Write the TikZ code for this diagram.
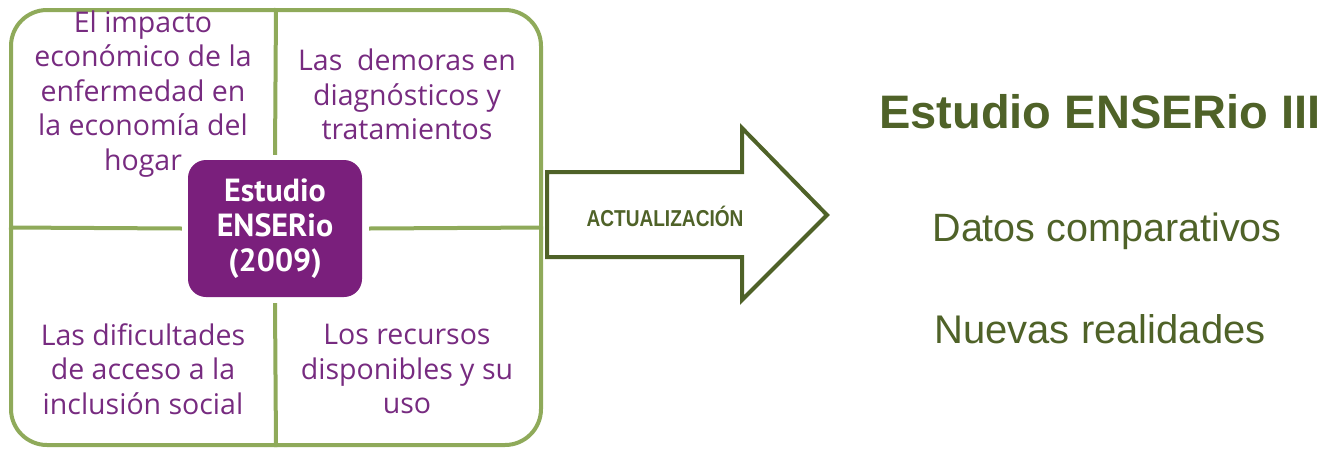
\documentclass[tikz,border=0pt]{standalone}
\usepackage{fontspec}
\setmainfont{Open Sans}
\newfontfamily\arialf{Liberation Sans}
\newfontfamily\boxf{PT Sans}
\usetikzlibrary{positioning}
\definecolor{gridgreen}{HTML}{8FAA5A}
\definecolor{olive}{HTML}{4F6228}
\definecolor{purp}{HTML}{7A1F7C}
\definecolor{purptext}{HTML}{772B80}
\tikzset{
  frame/.style={draw=gridgreen, line width=4pt, rounded corners=36pt, minimum width=530pt, minimum height=435pt, inner sep=0pt},
  divider/.style={draw=gridgreen, line width=4pt},
  centerbox/.style={fill=purp, rounded corners=18pt, minimum width=174pt, minimum height=137pt, text=white, align=center, font=\boxf\bfseries\fontsize{32}{35}\selectfont, inner sep=0pt},
  quad/.style={text=purptext, align=center, font=\fontsize{28.5}{34.5}\selectfont, inner sep=0pt},
  bigarrow/.style={draw=olive, line width=4pt, line join=miter},
  rtext/.style={text=olive, inner sep=0pt, anchor=center},
}
\begin{document}
\begin{tikzpicture}[x=1pt,y=-1pt]
\useasboundingbox (0,0) rectangle (1325,448);
\node[frame] (frame) at (276,227.5) {};
\node[centerbox] (box) at (275,228.5) {Estudio\\ENSERio\\(2009)};
\draw[divider] (frame.north) -- ([yshift=5pt]box.north);
\draw[divider] ([yshift=-6pt]box.south) -- (frame.south);
\draw[divider] (frame.west) -- ([xshift=-6pt]box.west);
\draw[divider] ([xshift=7pt]box.east) -- (frame.east);
\node[quad] (tl) at (143,94) {El impacto\\econ\'omico de la\\enfermedad en\\la econom\'ia del\\hogar};
\node[quad] (tr) at (407,94.5) {Las\ \ demoras en\\diagn\'osticos y\\tratamientos};
\node[quad] (bl) at (143,369) {Las dificultades\\de acceso a la\\inclusi\'on social};
\node[quad] (br) at (407,369) {Los recursos\\disponibles y su\\uso};
\coordinate (a1) at (547,172);
\coordinate (a2) at (742,172);
\coordinate (a3) at (742,128);
\coordinate (a4) at (827,215);
\coordinate (a5) at (742,300);
\coordinate (a6) at (742,257);
\coordinate (a7) at (547,257);
\draw[bigarrow] (a1) -- (a2) -- (a3) -- (a4) -- (a5) -- (a6) -- (a7) -- cycle;
\node[rtext] (act) at (665,216) {\scalebox{0.83}[1]{\arialf\bfseries\fontsize{23}{23}\selectfont ACTUALIZACI\'ON}};
\node[rtext] (t1) at (1100,112) {\arialf\bfseries\fontsize{47}{47}\selectfont Estudio ENSERio III};
\node[rtext] (t2) at (1107,231) {\arialf\fontsize{39.5}{39.5}\selectfont Datos comparativos};
\node[rtext] (t3) at (1100,329) {\arialf\fontsize{40}{40}\selectfont Nuevas realidades};
\end{tikzpicture}
\end{document}
